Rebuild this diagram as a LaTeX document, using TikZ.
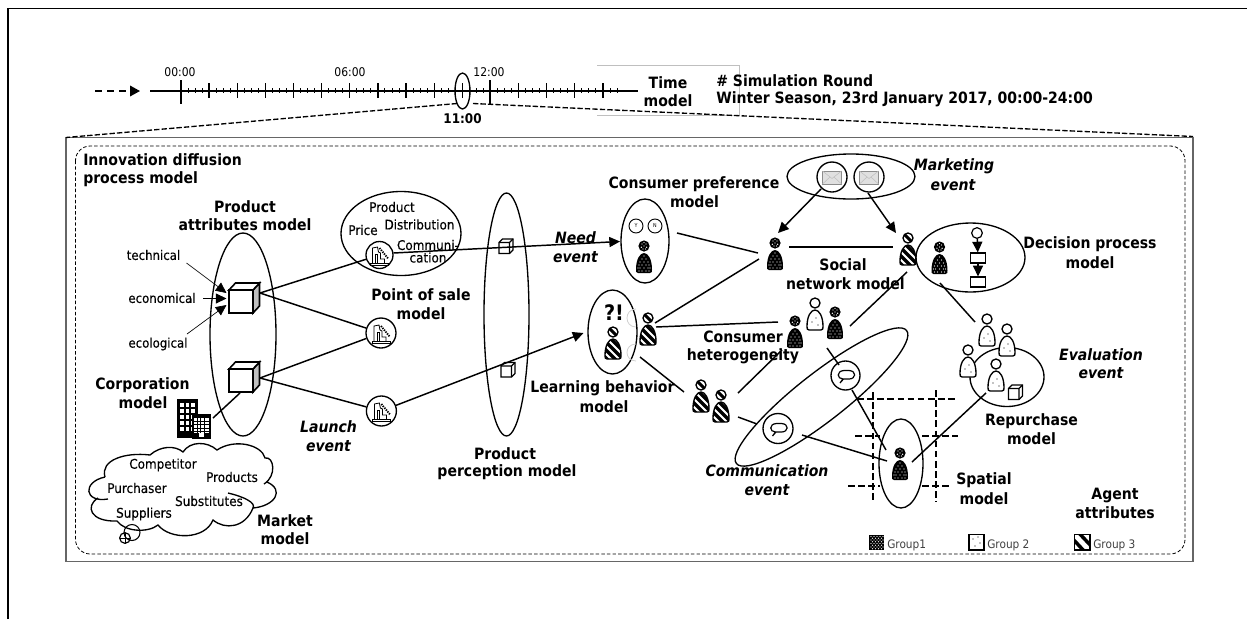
\documentclass[tikz,border=0pt]{standalone}
\usepackage{fontspec}
\setmainfont{DejaVu Sans Condensed}
\newfontfamily\semifont[FakeBold=0.25]{DejaVu Sans Condensed}
\usetikzlibrary{shapes.geometric,arrows.meta}
\tikzset{
  oval/.style 2 args={ellipse,draw,line width=1pt,inner sep=0pt,minimum width=.75*#1*1pt,minimum height=.75*#2*1pt},
  lab/.style={inner sep=0pt,font=\fontsize{11.7}{13}\selectfont\bfseries},
  evt/.style={inner sep=0pt,font=\fontsize{11.7}{13}\selectfont\bfseries\itshape},
  small/.style={inner sep=0pt,font=\semifont\fontsize{9.8}{11}\selectfont},
  smallb/.style={inner sep=0pt,font=\semifont\fontsize{10}{11}\selectfont},
  legendtxt/.style={inner sep=0pt,anchor=west,text=black!75,font=\fontsize{8.8}{10}\selectfont},
  link/.style={line width=1.1pt},
  tiplink/.style={line width=1.1pt,-{Triangle[length=8pt,width=7.5pt]}},
  thinlink/.style={line width=.5pt,-{Triangle[length=8pt,width=7.5pt]}},
  griddash/.style={line width=1pt,dash pattern=on 5pt off 2.6pt},
  agent1/.pic={
    \fill[black] (0,0) circle (5.6);
    \foreach \a/\b in {-2/-2,2/-2,0/0,-2.6/1.2,2.6/1.2,-1/3,1.5/3,0/-3.5}{\fill[white] (\a,\b) circle (.7);}
    \begin{scope}[shift={(0,7)}]
      \fill[black] (-6,20) .. controls (-8,20) and (-8,18.5) .. (-8,16.5) .. controls (-8,6) and (-4,0) .. (0,0) .. controls (4,0) and (8,6) .. (8,16.5) .. controls (8,18.5) and (8,20) .. (6,20) -- cycle;
      \foreach \a/\b in {0/3,-2/6,2/6,-4/9,0/9,4/9,-2/12,2/12,-5/12,5/12,-4/15,0/15,4/15,-6/15,6/15,-2/18,2/18,-5/18,5/18}{\fill[white] (\a,\b) circle (.7);}
    \end{scope}},
  agent2/.pic={
    \draw[line width=1pt,fill=white] (0,0) circle (5);
    \begin{scope}[shift={(0,7)}]
      \draw[line width=1pt,fill=white] (-6,20) .. controls (-8,20) and (-8,18.5) .. (-8,16.5) .. controls (-8,6) and (-4,0) .. (0,0) .. controls (4,0) and (8,6) .. (8,16.5) .. controls (8,18.5) and (8,20) .. (6,20) -- cycle;
      \foreach \a/\b in {-3/12,1/8,3/15}{\fill[black] (\a,\b) circle (.6);}
    \end{scope}},
  agent3/.pic={
    \draw[line width=1pt,fill=white] (0,0) circle (5);
    \begin{scope}
      \clip (0,0) circle (5);
      \draw[line width=2.2pt] (-5,-5) -- (5,5);
    \end{scope}
    \begin{scope}[shift={(0,7)}]
      \begin{scope}
        \clip (-6,20) .. controls (-8,20) and (-8,18.5) .. (-8,16.5) .. controls (-8,6) and (-4,0) .. (0,0) .. controls (4,0) and (8,6) .. (8,16.5) .. controls (8,18.5) and (8,20) .. (6,20) -- cycle;
        \foreach \d in {-16,-8,0,8,16}{\draw[line width=2.6pt] (-10,\d) -- (10,\d+20);}
      \end{scope}
      \draw[line width=1pt] (-6,20) .. controls (-8,20) and (-8,18.5) .. (-8,16.5) .. controls (-8,6) and (-4,0) .. (0,0) .. controls (4,0) and (8,6) .. (8,16.5) .. controls (8,18.5) and (8,20) .. (6,20) -- cycle;
    \end{scope}},
  factory/.pic={
    \draw[line width=.5pt] (-9,8) rectangle (9,10);
    \draw[line width=.6pt] (-7,8) -- (-7,-7) -- (-2,-8) -- (-1,-3) -- (1,-2) -- (1,4) -- (5,4) -- (5,8);
    \draw[line width=.6pt] (-4,8) -- (-4,-1) -- (-2,-1) -- (-2,8);
    \draw[line width=1.4pt,dash pattern=on 1pt off .8pt] (0,-7) -- (9,4);},
  bigcube/.pic={
    \draw[line width=1.2pt,fill=black!25] (24,0) -- (30.5,-7) -- (30.5,16) -- (24,23) -- cycle;
    \draw[line width=1.2pt,fill=white] (0,0) -- (6.5,-7) -- (30.5,-7) -- (24,0) -- cycle;
    \draw[line width=1.2pt,fill=white] (0,0) rectangle (24,23);},
  smallcube/.pic={
    \draw[line width=.9pt,fill=white] (0,3.5) -- (3.5,0) -- (14,0) -- (14,11) -- (10.5,14.5) -- (0,14.5) -- cycle;
    \draw[line width=.9pt] (0,3.5) -- (10.5,3.5) -- (10.5,14.5) (10.5,3.5) -- (14,0);},
  envelope/.pic={
    \draw[line width=.7pt,draw=black!45,fill=black!12] (-9.5,-6.5) rectangle (9.5,6.5);
    \draw[line width=.4pt,draw=black!25] (-9.5,-6.5) -- (0,1) -- (9.5,-6.5) (-9.5,6.5) -- (-2,-.5) (9.5,6.5) -- (2,-.5);},
  bubble/.pic={
    \draw[line width=.9pt] (-3,4) .. controls (-9,4) and (-10,-4) .. (-2,-4.5) -- (3,-4.5) .. controls (11,-4) and (10,4) .. (3,4) -- (-2.5,4) -- (-6,8) -- cycle;}
}
\begin{document}
\begin{tikzpicture}[x=.75pt,y=-.75pt]
\useasboundingbox (0,0) rectangle (1247,619);
% page border
\coordinate (pgA) at (8,619); \coordinate (pgB) at (8,8.5); \coordinate (pgC) at (1247,8.5);
\draw[line width=.9pt] (pgA) -- (pgB) -- (pgC);
% faint frame behind the time label
\coordinate (frA) at (597,65); \coordinate (frB) at (739.5,65); \coordinate (frC) at (739.5,115); \coordinate (frD) at (597,115);
\draw[line width=.5pt,black!25] (frA) -- (frB) -- (frC) -- (frD);
% timeline
\coordinate (arrA) at (95,91); \coordinate (arrB) at (127,91); \coordinate (arrC) at (130,91); \coordinate (arrD) at (140,91);
\draw[line width=1pt,dash pattern=on 5.5pt off 3.5pt] (arrA) -- (arrB);
\draw[-{Triangle[length=7.5pt,width=8pt]},line width=1pt] (arrC) -- (arrD);
\coordinate (tlA) at (150,91); \coordinate (tlB) at (638,91);
\draw[line width=1.1pt] (tlA) -- (tlB);
\foreach \i in {0,...,15}{
  \pgfmathsetmacro{\tx}{181+28.13*\i}
  \draw[line width=1pt] (\tx,83) -- (\tx,98);
  \foreach \j in {1,2,3}{
    \pgfmathsetmacro{\ux}{\tx+7.03*\j}
    \ifnum\i<15 \draw[line width=.7pt] (\ux,88) -- (\ux,93); \fi
  }
}
\draw[line width=.7pt] (610,88) -- (610,93) (617,88) -- (617,93);
\draw[line width=1.1pt] (181,80) -- (181,104) (490,80) -- (490,104);
\node[oval={15}{36}] (zoomEll) at (462.5,91) {};
\node[inner sep=0pt,font=\fontsize{9}{11}\selectfont] (t00) at (180,72) {00:00};
\node[inner sep=0pt,font=\fontsize{9}{11}\selectfont] (t06) at (350,72) {06:00};
\node[inner sep=0pt,font=\fontsize{9}{11}\selectfont] (t12) at (489,72) {12:00};
\node[inner sep=0pt,font=\fontsize{10}{12}\selectfont\bfseries] (t11) at (462.5,118.5) {11:00};
\node[lab] (tmA) at (668,83) {Time};
\node[lab] (tmB) at (668,101) {model};
\node[lab,anchor=west] (simA) at (716,81) {\# Simulation Round};
\node[lab,anchor=west] (simB) at (716,99) {Winter Season, 23rd January 2017, 00:00-24:00};
% outer frames
\coordinate (boxNW) at (66,137.5); \coordinate (boxSE) at (1193,561.5);
\draw[line width=1.3pt,black!60] (boxNW) rectangle (boxSE);
\coordinate (dNW) at (75.5,146); \coordinate (dSE) at (1185,554);
\draw[line width=.6pt,dash pattern=on 2.6pt off 1.6pt,rounded corners=11pt] (dNW) rectangle (dSE);
\coordinate (zlA) at (457,103.5); \coordinate (zlB) at (473,103.5); \coordinate (boxNE) at (1193,136.5);
\draw[line width=1pt,dash pattern=on 4pt off 1.6pt] (zlA) -- (boxNW);
\draw[line width=1pt,dash pattern=on 4pt off 1.6pt] (zlB) -- (boxNE);
% ellipses
\node[oval={66}{203}] (prodAttr) at (243,334.5) {};
\node[oval={120}{84}] (mix) at (401,233.5) {};
\node[oval={45}{243}] (prodPerc) at (506.5,314.5) {};
\node[oval={48}{84}] (pref) at (645,241) {};
\node[oval={49}{84}] (learn) at (612.5,332) {};
\node[oval={128}{45}] (mkt) at (851,176.5) {};
\node[oval={109}{69}] (decis) at (970.5,257.5) {};
\node[oval={74}{59}] (repur) at (1007,377) {};
\node[oval={44}{89}] (spat) at (901,463.5) {};
\node[oval={216}{48},rotate=38] (comm) at (821.5,397) {};
% circles
\node[oval={27}{27}] (fac1) at (379.5,255) {};
\node[oval={30}{30}] (fac2) at (381,333) {};
\node[oval={30}{30}] (fac3) at (381.4,411) {};
\node[oval={30}{30}] (env1) at (832,177) {};
\node[oval={30}{30}] (env2) at (869,177) {};
\node[oval={29}{29}] (bub1) at (845.5,375.5) {};
\node[oval={30}{30}] (bub2) at (778,428.5) {};
\node[draw,circle,inner sep=0pt,minimum size=10.5pt,line width=.7pt,font=\fontsize{4}{4}\selectfont] (yes) at (636,226) {Y};
\node[draw,circle,inner sep=0pt,minimum size=10.5pt,line width=.7pt,font=\fontsize{4}{4}\selectfont] (no) at (655,226) {N};
% icons
\pic at (379.5,255) {factory};
\pic at (381,333) {factory};
\pic at (381.4,411) {factory};
\pic at (832,177.5) {envelope};
\pic at (869,177.5) {envelope};
\pic at (846,375) {bubble};
\pic at (778.5,428) {bubble};
\pic at (229,290) {bigcube};
\pic at (229,369) {bigcube};
\pic at (499,239) {smallcube};
\pic at (501,362.5) {smallcube};
\pic at (1008.5,385) {smallcube};
% agents
\pic at (644,246) {agent1};
\pic at (775,243) {agent1};
\pic at (939.5,247) {agent1};
\pic at (795,321) {agent1};
\pic at (835,312) {agent1};
\pic at (900,453) {agent1};
\pic at (815,303) {agent2};
\pic at (987,319) {agent2};
\pic at (1007,329) {agent2};
\pic at (968,350) {agent2};
\pic at (996,364) {agent2};
\pic at (908,238) {agent3};
\pic at (613,332) {agent3};
\pic at (648,318) {agent3};
\pic at (701,385) {agent3};
\pic at (721,395) {agent3};
% faint arcs near the learning ellipse
\coordinate (fa1) at (636,309); \coordinate (fa2) at (636,327); \coordinate (fa3) at (636,344); \coordinate (fa4) at (636,361);
\draw[line width=.6pt,black!18] (fa1) .. controls (624,309) and (624,327) .. (fa2);
\draw[line width=.6pt,black!18] (fa3) .. controls (624,344) and (624,361) .. (fa4);
% cloud
\coordinate (cl0) at (105,477); \coordinate (cl1) at (108,499); \coordinate (cl2) at (98,498); \coordinate (cl3) at (117,521);
\coordinate (cl4) at (158,525); \coordinate (cl5) at (213,520); \coordinate (cl6) at (253,508); \coordinate (cl7) at (228,493);
\coordinate (cl8) at (267,482); \coordinate (cl9) at (265,458); \coordinate (cl10) at (217,450); \coordinate (cl11) at (183,452); \coordinate (cl12) at (150,455);
\draw[line width=1pt] (cl0) .. controls (82,482) and (84,503) .. (cl1);
\draw[line width=1pt] (cl2) .. controls (85,506) and (90,522) .. (cl3) .. controls (125,532) and (148,533) .. (cl4)
  .. controls (170,540) and (205,540) .. (cl5) .. controls (225,530) and (245,528) .. (cl6) .. controls (275,506) and (285,490) .. (cl8);
\draw[line width=1pt] (cl7) .. controls (245,497) and (256,503) .. (cl6);
\draw[line width=1pt] (264,484) .. controls (277,476) and (274,456) .. (cl9) .. controls (262,445) and (235,438) .. (cl10)
  .. controls (207,441) and (190,441) .. (cl11) .. controls (175,445) and (160,446) .. (cl12) .. controls (125,452) and (100,460) .. (cl0);
\node[draw,circle,inner sep=0pt,minimum size=12pt,line width=.8pt] (mk1) at (132,532.5) {};
\node[draw,circle,inner sep=0pt,minimum size=8pt,line width=.9pt] (mk2) at (125,538) {};
\coordinate (mkA) at (119.5,538); \coordinate (mkB) at (130.5,538); \coordinate (mkC) at (125,532.5); \coordinate (mkD) at (125,543.5);
\draw[line width=.7pt] (mkA) -- (mkB) (mkC) -- (mkD);
% corporation buildings
\coordinate (bdA) at (177,399); \coordinate (bdB) at (198,438); \coordinate (bdC) at (193,415); \coordinate (bdD) at (210,438);
\fill (bdA) rectangle (bdB);
\foreach \a in {180,185.5,191}{\foreach \b in {403,409,415,421,427}{\fill[white] (\a,\b) rectangle (\a+3.8,\b+3.8);}}
\draw[line width=.8pt,fill=white] (bdC) rectangle (bdD);
\fill (193,415) rectangle (210,418);
\fill (193,433) rectangle (199,438); \fill (204,433) rectangle (210,438);
\foreach \a in {197,200.5,204}{\draw[line width=.5pt] (\a,418) -- (\a,433);}
\foreach \b in {421,424.5,428,431.5}{\draw[line width=.5pt] (193,\b) -- (210,\b);}
% connectors
\coordinate (cu1) at (260,293); \coordinate (cu2) at (260,378); \coordinate (cu2b) at (240,393); \coordinate (bldg) at (213,418);
\draw[link] (cu1) -- (fac1);
\draw[link] (cu1) -- (fac2);
\draw[link] (cu2) -- (fac2);
\draw[link] (cu2) -- (fac3);
\draw[link] (bldg) -- (cu2b);
\coordinate (needT) at (620,241.5);
\coordinate (fac1R) at (393.5,253);
\draw[tiplink] (fac1R) -- (needT);
\coordinate (launT) at (583.5,333);
\draw[tiplink] (fac3) -- (launT);
\coordinate (tecA) at (186.5,263); \coordinate (tecB) at (226.5,293);
\coordinate (ecoA) at (203,298.5); \coordinate (ecoB) at (226.5,298.5);
\coordinate (eclA) at (187,334); \coordinate (eclB) at (226.5,305);
\draw[thinlink] (tecA) -- (tecB);
\draw[thinlink] (ecoA) -- (ecoB);
\draw[thinlink] (eclA) -- (eclB);
\coordinate (prefR) at (677,233); \coordinate (ag1L) at (758,253); \coordinate (lrnR) at (655,323); \coordinate (ag1Lb) at (759,259);
\draw[link] (prefR) -- (ag1L);
\draw[link] (lrnR) -- (ag1Lb);
\coordinate (lrnRb) at (656,327); \coordinate (hetL) at (778,322);
\draw[link] (lrnRb) -- (hetL);
\coordinate (lrnRc) at (640,357); \coordinate (prL) at (684,392);
\draw[link] (lrnRc) -- (prL);
\coordinate (prR) at (738,393); \coordinate (hetB) at (782,350);
\draw[link] (prR) -- (hetB);
\coordinate (prRb) at (738,417); \coordinate (prRc) at (757,424);
\draw[link] (prRb) -- (prRc);
\coordinate (ag1R) at (789,247); \coordinate (ag3L) at (893,247);
\draw[link] (ag1R) -- (ag3L);
\coordinate (ag3B) at (907,272); \coordinate (hetR) at (850,326);
\draw[link] (ag3B) -- (hetR);
\coordinate (decB) at (940,283); \coordinate (rpT) at (975,322);
\draw[link] (decB) -- (rpT);
\coordinate (mkL) at (821,189); \coordinate (mkLT) at (778,233); \coordinate (mkR) at (868,193); \coordinate (mkRT) at (896,233);
\draw[tiplink] (mkL) -- (mkLT);
\draw[tiplink] (mkR) -- (mkRT);
\coordinate (hetC) at (827,348); \coordinate (bub1T) at (839,365);
\draw[link] (hetC) -- (bub1T);
\coordinate (bub1B) at (852,390); \coordinate (spT) at (886,450);
\draw[link] (bub1B) -- (spT);
\coordinate (commB) at (802,435); \coordinate (spL) at (887,461);
\draw[link] (commB) -- (spL);
\coordinate (spR) at (912,462); \coordinate (rpB) at (986,393);
\draw[link] (spR) -- (rpB);
% decision flow
\node[draw,circle,inner sep=0pt,minimum size=8pt,line width=.9pt] (flA) at (977,233) {};
\node[draw,inner sep=0pt,minimum width=11.5pt,minimum height=7.5pt,line width=.9pt] (flB) at (978,258) {};
\node[draw,inner sep=0pt,minimum width=11.5pt,minimum height=7.5pt,line width=.9pt] (flC) at (978,282) {};
\draw[tiplink] (flA) -- (flB);
\draw[tiplink] (flB) -- (flC);
% spatial grid
\foreach \gx/\ga/\gb in {873/392/500,936/390/502}{\draw[griddash] (\gx,\ga) -- (\gx,\gb);}
\draw[griddash] (857,399) -- (958,399);
\draw[griddash] (855,436) -- (880,436) (922,436) -- (958,436);
\draw[griddash] (848,486) -- (880,486) (922,486) -- (951,486);
% labels
\node[lab,anchor=west] (lbA) at (83,160) {Innovation diffusion};
\node[lab,anchor=west] (lbB) at (83,179) {process model};
\node[lab] (lbC) at (245,207) {Product};
\node[lab] (lbD) at (245,225) {attributes model};
\node[small] (lbE) at (153.5,255) {technical};
\node[small] (lbF) at (162,298) {economical};
\node[small] (lbG) at (158,344) {ecological};
\node[smallb] (lbH) at (392,207) {Product};
\node[smallb] (lbI) at (419.5,224.5) {Distribution};
\node[smallb] (lbJ) at (363,230) {Price};
\node[smallb] (lbK) at (428,245) {Communi-};
\node[smallb] (lbL) at (428,257.5) {cation};
\node[evt] (lbM) at (575.5,238) {Need};
\node[evt] (lbN) at (575.5,257) {event};
\node[lab] (lbO) at (421,295) {Point of sale};
\node[lab] (lbP) at (421,314) {model};
\node[lab] (lbQ) at (694,184) {Consumer preference};
\node[lab] (lbR) at (694.5,202) {model};
\node[evt] (lbS) at (954,166) {Marketing};
\node[evt] (lbT) at (953,185) {event};
\node[lab] (lbU) at (1090,244) {Decision process};
\node[lab] (lbV) at (1090,263) {model};
\node[lab] (lbW) at (843,265) {Social};
\node[lab] (lbX) at (845.5,284) {network model};
\node[lab] (lbY) at (743,337) {Consumer};
\node[lab] (lbZ) at (743,356) {heterogeneity};
\node[font=\fontsize{16}{18}\selectfont\bfseries,inner sep=0pt] (lbQm) at (614,313) {?!};
\node[lab] (lcA) at (602.5,388) {Learning behavior};
\node[lab] (lcB) at (604,407) {model};
\node[lab] (lcC) at (505,454) {Product};
\node[lab] (lcD) at (507,472.5) {perception model};
\node[evt] (lcE) at (328.5,427) {Launch};
\node[evt] (lcF) at (328.5,446) {event};
\node[lab] (lcG) at (142.5,385) {Corporation};
\node[lab] (lcH) at (143,403) {model};
\node[smallb] (lcI) at (163,465) {Competitor};
\node[smallb] (lcJ) at (232,477) {Products};
\node[smallb] (lcK) at (137,488) {Purchaser};
\node[smallb] (lcL) at (209,501) {Substitutes};
\node[smallb] (lcM) at (144,514) {Suppliers};
\node[lab] (lcN) at (285,521) {Market};
\node[lab] (lcO) at (285,539) {model};
\node[evt] (lcP) at (1101,354.5) {Evaluation};
\node[evt] (lcQ) at (1101,373) {event};
\node[lab] (lcR) at (1031.5,421.5) {Repurchase};
\node[lab] (lcS) at (1031.5,439) {model};
\node[lab] (lcT) at (984,480) {Spatial};
\node[lab] (lcU) at (984,499) {model};
\node[evt] (lcV) at (767,471) {Communication};
\node[evt] (lcW) at (767,490) {event};
\node[lab] (lcX) at (1115,495) {Agent};
\node[lab] (lcY) at (1115,513) {attributes};
% legend
\coordinate (lgA) at (869,534.5); \coordinate (lgB) at (884,550);
\fill (lgA) rectangle (lgB);
\foreach \a in {871,874,877,880,883}{\foreach \b in {536.5,540,543.5,547}{\fill[white] (\a,\b) circle (.65);}}
\foreach \a in {872.5,875.5,878.5,881.5}{\foreach \b in {538.2,541.7,545.2,548.7}{\fill[white] (\a,\b) circle (.65);}}
\coordinate (lgC) at (969,534.5); \coordinate (lgD) at (984,550);
\draw[line width=.9pt] (lgC) rectangle (lgD);
\foreach \a/\b in {973/539,978/537,980/543,975/546}{\fill (\a,\b) circle (.6);}
\coordinate (lgE) at (1074.5,534.5); \coordinate (lgF) at (1090,550);
\begin{scope}
  \clip (lgE) rectangle (lgF);
  \draw[line width=2.6pt] (1071,537) -- (1085,552) (1078,532) -- (1093,548);
\end{scope}
\draw[line width=1pt] (lgE) rectangle (lgF);
\node[legendtxt] (lgT1) at (887,545) {Group1};
\node[legendtxt] (lgT2) at (987,545) {Group 2};
\node[legendtxt] (lgT3) at (1093,545) {Group 3};
\end{tikzpicture}
\end{document}
